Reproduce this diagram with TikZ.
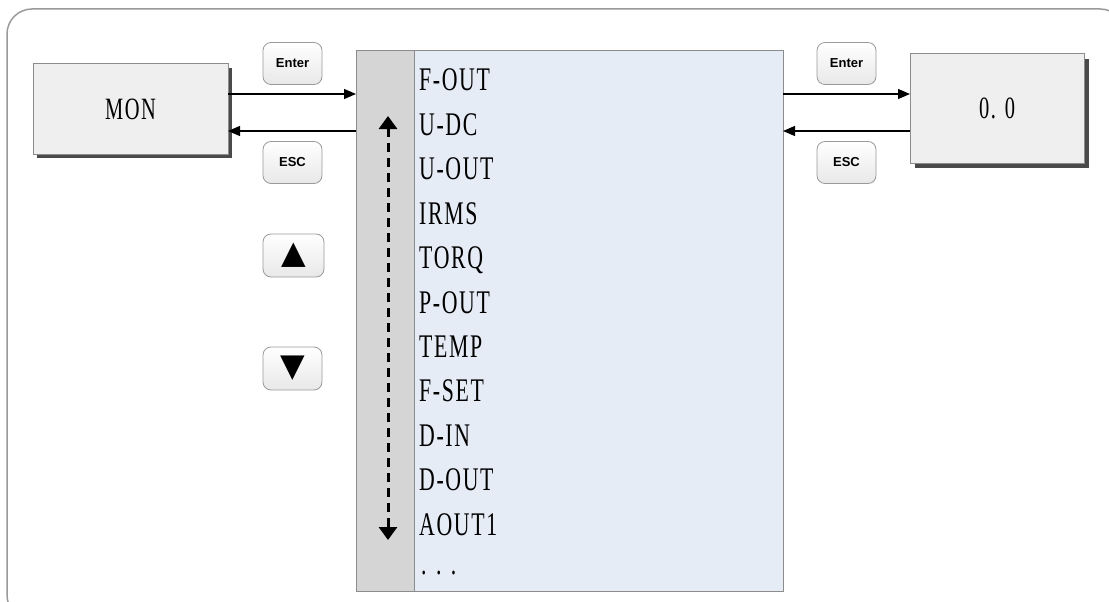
\documentclass[tikz,border=0pt]{standalone}
\usepackage{fontspec}
\setmainfont{Liberation Serif}
\setsansfont{Liberation Sans}
\newfontfamily\condfont[FakeStretch=0.66,LetterSpace=5]{Liberation Serif}
\newfontfamily\symfont{DejaVu Sans}
\usetikzlibrary{arrows.meta,calc}
\definecolor{framegray}{HTML}{9A9A9A}
\definecolor{boxfill}{HTML}{EFEFEF}
\definecolor{boxline}{HTML}{8C8C8C}
\definecolor{stripfill}{HTML}{D5D5D5}
\definecolor{listfill}{HTML}{E6ECF6}
\definecolor{shadowgray}{HTML}{4A4A4A}
\tikzset{
  dispbox/.style={draw=boxline, fill=boxfill, line width=1pt, inner sep=0pt, outer sep=0pt,
    font=\condfont\fontsize{31}{31}\selectfont},
  keybtn/.style={draw=framegray, rounded corners=8pt, top color=white, bottom color=black!9,
    line width=0.8pt, inner sep=0pt, outer sep=0pt, minimum width=59pt, minimum height=42pt,
    font=\sffamily\bfseries\fontsize{13}{13}\selectfont},
  flowarrow/.style={line width=1.3pt, -{Triangle[length=12pt,width=10pt]}},
  listitem/.style={anchor=base west, inner sep=0pt, font=\condfont\fontsize{33}{33}\selectfont},
}
\begin{document}
\begin{tikzpicture}[x=1pt,y=-1pt]
\useasboundingbox (0,0) rectangle (1109,602);
\begin{scope}
\clip (0,0) rectangle (1109,602);
\draw[framegray, line width=1.5pt, rounded corners=25pt] (7,9) rectangle (1125,620);
\end{scope}

% list panel
\node[draw=boxline, fill=listfill, line width=1pt, inner sep=0pt, outer sep=0pt,
  minimum width=427pt, minimum height=540pt] (panel) at (569.5,321) {};
\path[draw=boxline, fill=stripfill, line width=1pt] (panel.north west) rectangle (414,591);

\foreach \t [count=\i from 0] in {F-OUT,U-DC,U-OUT,IRMS,TORQ,P-OUT,TEMP,F-SET,D-IN,D-OUT,AOUT1}
  \node[listitem] (item\i) at (419,91+44.4*\i) {\t};
\node[listitem] (dots) at (421,574) {. . .};

% scroll arrow
\coordinate (scrolltop) at (388,116);
\coordinate (scrollbot) at (388,540);
\draw[line width=3pt, dash pattern=on 9pt off 6pt,
  {Triangle[length=13pt,width=18pt]}-{Triangle[length=13pt,width=18pt]}] (scrolltop) -- (scrollbot);

% MON box with shadow
\fill[shadowgray] (37,68) rectangle (232,158);
\node[dispbox, minimum width=195pt, minimum height=90pt] (mon) at (130.5,109) {MON};

% 0.0 box with shadow
\fill[shadowgray] (915,59) rectangle (1089,168);
\node[dispbox, minimum width=174pt, minimum height=109pt] (zero) at (997,108.5) {0. 0};

% keys
\node[keybtn] (enterL) at (292.5,63.5) {Enter};
\node[keybtn] (escL) at (292.5,162.5) {ESC};
\node[keybtn] (enterR) at (846.5,63.5) {Enter};
\node[keybtn] (escR) at (846.5,162.5) {ESC};
\node[keybtn, minimum width=61pt, minimum height=43pt, font=\symfont\fontsize{32}{32}\selectfont] (up) at (293.5,255.5) {▲};
\node[keybtn, minimum width=59pt, minimum height=43pt, font=\symfont\fontsize{32}{32}\selectfont] (down) at (292.5,368.5) {▼};

% connectors
\draw[flowarrow] ([yshift=15pt]mon.east) -- ([yshift=15pt]mon.east -| panel.west);
\draw[flowarrow] ([yshift=-22pt]mon.east -| panel.west) -- ([yshift=-22pt]mon.east);
\draw[flowarrow] ([yshift=14.5pt]zero.west -| panel.east) -- ([yshift=14.5pt]zero.west);
\draw[flowarrow] ([yshift=-22.5pt]zero.west) -- ([yshift=-22.5pt]zero.west -| panel.east);
\end{tikzpicture}
\end{document}
